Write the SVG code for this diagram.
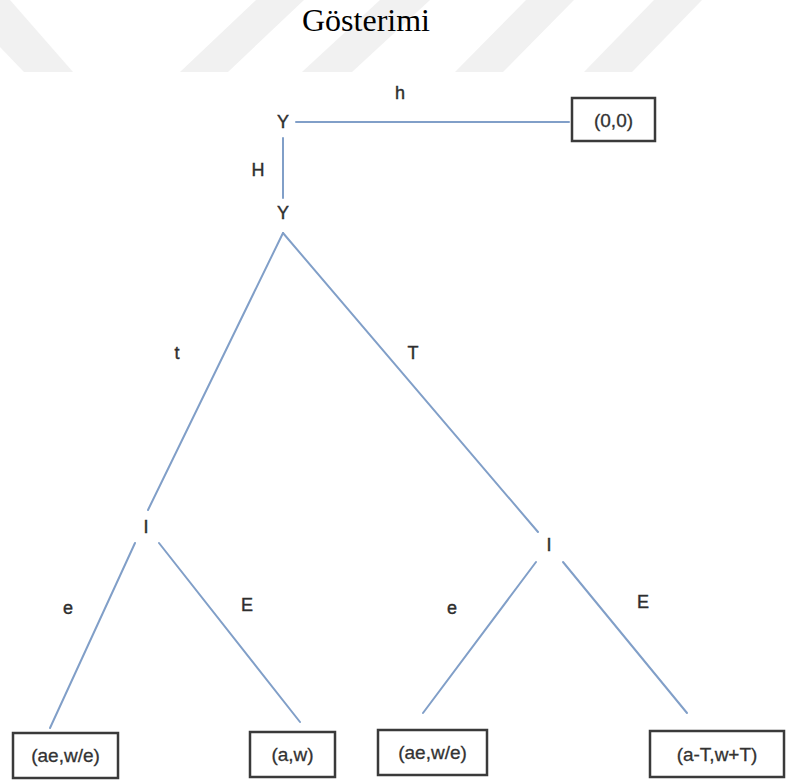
<svg xmlns="http://www.w3.org/2000/svg" width="786" height="783" viewBox="0 0 786 783">
<style>
.wm{fill:#f1f1f1}
.title{font-family:"Liberation Serif","Times New Roman",serif;font-size:32px;fill:#000}
.lbl{font-family:"Liberation Sans",Arial,sans-serif;font-size:18px;fill:#2e2e2e;stroke:#2e2e2e;stroke-width:0.4;text-anchor:middle}
.box rect{fill:#fff;stroke:#3a3a3a;stroke-width:2.5}
.box text{font-family:"Liberation Sans",Arial,sans-serif;font-size:19px;fill:#333;stroke:#333;stroke-width:0.3;text-anchor:middle}
.edge{stroke:#819fc8;stroke-width:2;fill:none;stroke-linecap:round}
</style>
<rect width="786" height="783" fill="#fff"/>
<g id="watermark">
<polygon class="wm" points="0,0 10,0 73,72 24,72 0,47"/>
<polygon class="wm" points="256,0 304,0 228,72 180,72"/>
<polygon class="wm" points="380,0 430,0 352,72 302,72"/>
<polygon class="wm" points="526,0 574,0 503,72 455,72"/>
<polygon class="wm" points="654,0 702,0 632,72 584,72"/>
</g>
<text class="title" x="302" y="31">Gösterimi</text>
<g id="connectors">
<line class="edge" x1="296" y1="122" x2="569" y2="122"/>
<line class="edge" x1="283" y1="138" x2="283" y2="198"/>
<line class="edge" x1="283" y1="233" x2="148" y2="510"/>
<line class="edge" x1="283" y1="233" x2="538" y2="532"/>
<line class="edge" x1="135" y1="543" x2="50" y2="728"/>
<line class="edge" x1="159" y1="543" x2="300" y2="722"/>
<line class="edge" x1="536" y1="562" x2="423" y2="713"/>
<line class="edge" x1="563" y1="562" x2="687" y2="713"/>
<text class="lbl" x="400" y="99">h</text>
<text class="lbl" x="258" y="176">H</text>
<text class="lbl" x="177" y="359">t</text>
<text class="lbl" x="413" y="359">T</text>
<text class="lbl" x="68" y="614">e</text>
<text class="lbl" x="247" y="611">E</text>
<text class="lbl" x="452" y="614">e</text>
<text class="lbl" x="643" y="608">E</text>
</g>
<g id="node-y1"><text class="lbl" x="283" y="128">Y</text></g>
<g id="node-y2"><text class="lbl" x="283" y="219">Y</text></g>
<g id="node-i-left"><text class="lbl" x="146" y="533">I</text></g>
<g id="node-i-right"><text class="lbl" x="549" y="551">I</text></g>
<g id="node-00" class="box"><rect x="572" y="98" width="83" height="43"/><text x="613.5" y="127">(0,0)</text></g>
<g id="node-leaf1" class="box"><rect x="13" y="733" width="105" height="45"/><text x="65.5" y="762">(ae,w/e)</text></g>
<g id="node-leaf2" class="box"><rect x="250" y="732" width="85" height="45"/><text x="292.5" y="761">(a,w)</text></g>
<g id="node-leaf3" class="box"><rect x="378" y="730" width="109" height="45"/><text x="432.5" y="759">(ae,w/e)</text></g>
<g id="node-leaf4" class="box"><rect x="650" y="731" width="134" height="46"/><text x="717" y="761">(a-T,w+T)</text></g>
</svg>
